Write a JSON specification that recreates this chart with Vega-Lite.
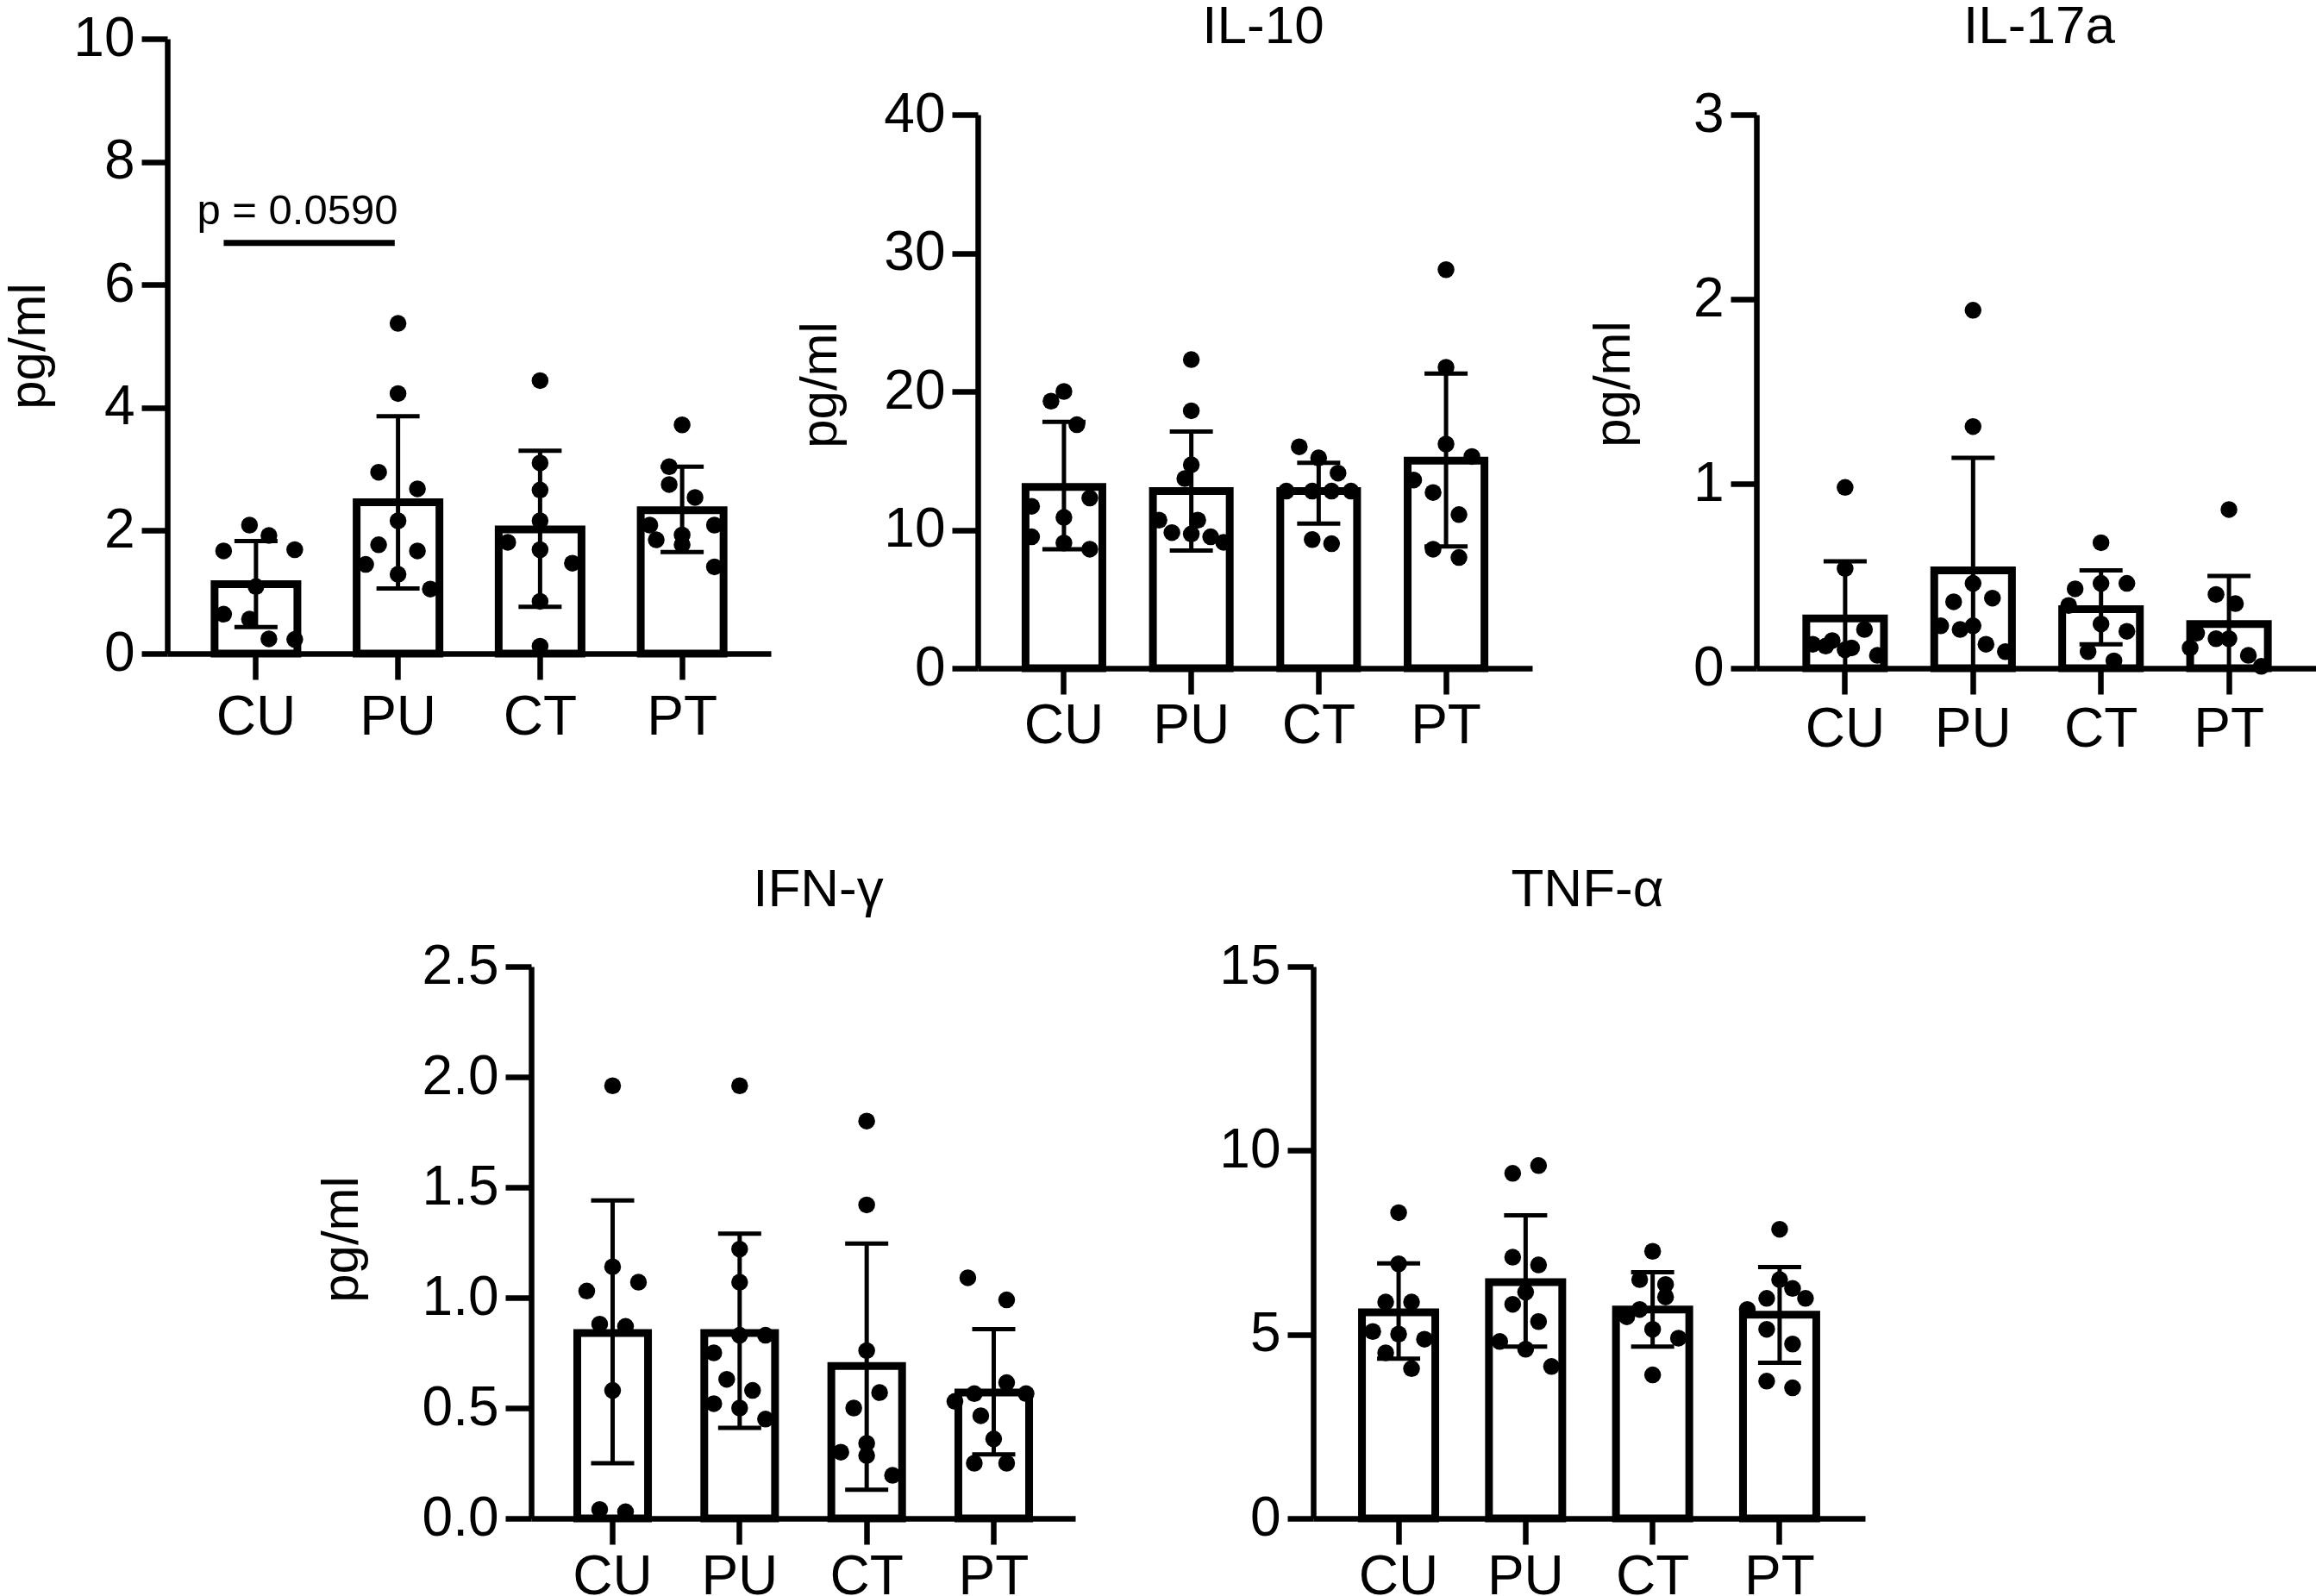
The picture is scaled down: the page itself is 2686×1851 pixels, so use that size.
{
  "$schema": "https://vega.github.io/schema/vega-lite/v6.json",
  "background": "white",
  "padding": {"left": 3, "top": 0, "right": 0, "bottom": 0},
  "config": {
    "font": "Liberation Sans",
    "view": {"stroke": null},
    "axis": {"domainColor": "black", "domainWidth": 6.5, "tickColor": "black", "tickWidth": 6.5, "tickSize": 30, "labelFont": "Liberation Sans", "labelFontSize": 64, "labelColor": "black", "titleFont": "Liberation Sans", "titleFontSize": 60, "titleFontWeight": "normal", "titleColor": "black", "grid": false, "labelPadding": 8, "labelOverlap": false},
    "axisX": {"labelAngle": 0},
    "axisY": {"titleBaseline": "bottom", "titleAlign": "center", "titleAngle": -90},
    "title": {"font": "Liberation Sans", "fontSize": 62, "fontWeight": "normal", "color": "black"}
  },
  "datasets": {
    "sum": [
      {"p": "P1", "g": "CU", "mean": 1.13, "lo": 0.43, "hi": 1.83},
      {"p": "P1", "g": "PU", "mean": 2.46, "lo": 1.06, "hi": 3.86},
      {"p": "P1", "g": "CT", "mean": 2.02, "lo": 0.76, "hi": 3.30},
      {"p": "P1", "g": "PT", "mean": 2.33, "lo": 1.65, "hi": 3.04},
      {"p": "IL10", "g": "CU", "mean": 13.1, "lo": 8.6, "hi": 17.8},
      {"p": "IL10", "g": "PU", "mean": 12.8, "lo": 8.5, "hi": 17.1},
      {"p": "IL10", "g": "CT", "mean": 12.8, "lo": 10.45, "hi": 14.85},
      {"p": "IL10", "g": "PT", "mean": 15.0, "lo": 8.8, "hi": 21.3},
      {"p": "IL17", "g": "CU", "mean": 0.27, "lo": 0, "hi": 0.58},
      {"p": "IL17", "g": "PU", "mean": 0.53, "lo": 0, "hi": 1.14},
      {"p": "IL17", "g": "CT", "mean": 0.32, "lo": 0.13, "hi": 0.53},
      {"p": "IL17", "g": "PT", "mean": 0.24, "lo": 0, "hi": 0.50},
      {"p": "IFN", "g": "CU", "mean": 0.84, "lo": 0.25, "hi": 1.44},
      {"p": "IFN", "g": "PU", "mean": 0.84, "lo": 0.41, "hi": 1.29},
      {"p": "IFN", "g": "CT", "mean": 0.69, "lo": 0.13, "hi": 1.245},
      {"p": "IFN", "g": "PT", "mean": 0.57, "lo": 0.29, "hi": 0.857},
      {"p": "TNF", "g": "CU", "mean": 5.6, "lo": 4.34, "hi": 6.93},
      {"p": "TNF", "g": "PU", "mean": 6.42, "lo": 4.67, "hi": 8.24},
      {"p": "TNF", "g": "CT", "mean": 5.68, "lo": 4.67, "hi": 6.69},
      {"p": "TNF", "g": "PT", "mean": 5.54, "lo": 4.23, "hi": 6.83}
    ],
    "pv": [
      {"g1": "CU", "g2": "PU", "y": 6.68, "ty": 6.99, "label": "p = 0.0590"}
    ],
    "pts": [
      {"p": "P1", "g": "CU", "v": 2.09, "s": -0.5}, {"p": "P1", "g": "CU", "v": 1.92, "s": 1}, {"p": "P1", "g": "CU", "v": 1.67, "s": -2.5}, {"p": "P1", "g": "CU", "v": 1.69, "s": 3}, {"p": "P1", "g": "CU", "v": 1.09, "s": 0}, {"p": "P1", "g": "CU", "v": 0.64, "s": -2.5}, {"p": "P1", "g": "CU", "v": 0.56, "s": -0.5}, {"p": "P1", "g": "CU", "v": 0.24, "s": 1}, {"p": "P1", "g": "CU", "v": 0.23, "s": 3},
      {"p": "P1", "g": "PU", "v": 5.37, "s": 0}, {"p": "P1", "g": "PU", "v": 4.23, "s": 0}, {"p": "P1", "g": "PU", "v": 2.95, "s": -1.5}, {"p": "P1", "g": "PU", "v": 2.68, "s": 1.5}, {"p": "P1", "g": "PU", "v": 2.16, "s": 0}, {"p": "P1", "g": "PU", "v": 1.77, "s": -1.5}, {"p": "P1", "g": "PU", "v": 1.67, "s": 1.5}, {"p": "P1", "g": "PU", "v": 1.45, "s": -2.5}, {"p": "P1", "g": "PU", "v": 1.29, "s": 0}, {"p": "P1", "g": "PU", "v": 1.05, "s": 2.5},
      {"p": "P1", "g": "CT", "v": 4.44, "s": 0}, {"p": "P1", "g": "CT", "v": 3.10, "s": 0}, {"p": "P1", "g": "CT", "v": 2.66, "s": 0}, {"p": "P1", "g": "CT", "v": 2.16, "s": 0}, {"p": "P1", "g": "CT", "v": 1.81, "s": -2.5}, {"p": "P1", "g": "CT", "v": 1.69, "s": 0}, {"p": "P1", "g": "CT", "v": 1.47, "s": 2.5}, {"p": "P1", "g": "CT", "v": 0.85, "s": 0}, {"p": "P1", "g": "CT", "v": 0.12, "s": 0},
      {"p": "P1", "g": "PT", "v": 3.72, "s": 0}, {"p": "P1", "g": "PT", "v": 3.04, "s": -1}, {"p": "P1", "g": "PT", "v": 2.75, "s": -1}, {"p": "P1", "g": "PT", "v": 2.54, "s": 1}, {"p": "P1", "g": "PT", "v": 2.09, "s": -2.5}, {"p": "P1", "g": "PT", "v": 2.09, "s": 2.5}, {"p": "P1", "g": "PT", "v": 1.93, "s": 0}, {"p": "P1", "g": "PT", "v": 1.85, "s": -2}, {"p": "P1", "g": "PT", "v": 1.77, "s": 0}, {"p": "P1", "g": "PT", "v": 1.41, "s": 2.5},
      {"p": "IL10", "g": "CU", "v": 19.3, "s": -1}, {"p": "IL10", "g": "CU", "v": 20.0, "s": 0}, {"p": "IL10", "g": "CU", "v": 17.6, "s": 1}, {"p": "IL10", "g": "CU", "v": 11.7, "s": -2.5}, {"p": "IL10", "g": "CU", "v": 12.3, "s": 2}, {"p": "IL10", "g": "CU", "v": 10.9, "s": 0}, {"p": "IL10", "g": "CU", "v": 9.5, "s": -2.5}, {"p": "IL10", "g": "CU", "v": 9.05, "s": 0}, {"p": "IL10", "g": "CU", "v": 8.6, "s": 2},
      {"p": "IL10", "g": "PU", "v": 22.3, "s": 0}, {"p": "IL10", "g": "PU", "v": 18.6, "s": 0}, {"p": "IL10", "g": "PU", "v": 14.7, "s": 0}, {"p": "IL10", "g": "PU", "v": 13.7, "s": -0.5}, {"p": "IL10", "g": "PU", "v": 10.7, "s": -2.5}, {"p": "IL10", "g": "PU", "v": 10.7, "s": 0.5}, {"p": "IL10", "g": "PU", "v": 9.8, "s": -1.5}, {"p": "IL10", "g": "PU", "v": 9.7, "s": 0}, {"p": "IL10", "g": "PU", "v": 9.5, "s": 1.5}, {"p": "IL10", "g": "PU", "v": 9.1, "s": 2.5},
      {"p": "IL10", "g": "CT", "v": 16.0, "s": -1.5}, {"p": "IL10", "g": "CT", "v": 15.2, "s": 0}, {"p": "IL10", "g": "CT", "v": 14.1, "s": 1.5}, {"p": "IL10", "g": "CT", "v": 12.8, "s": -2.5}, {"p": "IL10", "g": "CT", "v": 12.8, "s": -0.5}, {"p": "IL10", "g": "CT", "v": 12.8, "s": 1}, {"p": "IL10", "g": "CT", "v": 12.8, "s": 2.5}, {"p": "IL10", "g": "CT", "v": 9.3, "s": -0.5}, {"p": "IL10", "g": "CT", "v": 9.0, "s": 1},
      {"p": "IL10", "g": "PT", "v": 28.8, "s": 0}, {"p": "IL10", "g": "PT", "v": 21.75, "s": 0}, {"p": "IL10", "g": "PT", "v": 16.2, "s": 0}, {"p": "IL10", "g": "PT", "v": 15.3, "s": 2}, {"p": "IL10", "g": "PT", "v": 13.6, "s": -2.5}, {"p": "IL10", "g": "PT", "v": 12.7, "s": -1}, {"p": "IL10", "g": "PT", "v": 11.1, "s": 1}, {"p": "IL10", "g": "PT", "v": 8.6, "s": -1}, {"p": "IL10", "g": "PT", "v": 8.0, "s": 1},
      {"p": "IL17", "g": "CU", "v": 0.98, "s": 0}, {"p": "IL17", "g": "CU", "v": 0.54, "s": 0}, {"p": "IL17", "g": "CU", "v": 0.21, "s": 1.5}, {"p": "IL17", "g": "CU", "v": 0.15, "s": -1}, {"p": "IL17", "g": "CU", "v": 0.13, "s": -2.5}, {"p": "IL17", "g": "CU", "v": 0.12, "s": -1.5}, {"p": "IL17", "g": "CU", "v": 0.11, "s": 0.5}, {"p": "IL17", "g": "CU", "v": 0.10, "s": 0}, {"p": "IL17", "g": "CU", "v": 0.07, "s": 2.5},
      {"p": "IL17", "g": "PU", "v": 1.94, "s": 0}, {"p": "IL17", "g": "PU", "v": 1.31, "s": 0}, {"p": "IL17", "g": "PU", "v": 0.46, "s": 0}, {"p": "IL17", "g": "PU", "v": 0.36, "s": -1.5}, {"p": "IL17", "g": "PU", "v": 0.38, "s": 1.5}, {"p": "IL17", "g": "PU", "v": 0.23, "s": -2.5}, {"p": "IL17", "g": "PU", "v": 0.21, "s": -1}, {"p": "IL17", "g": "PU", "v": 0.23, "s": 0}, {"p": "IL17", "g": "PU", "v": 0.13, "s": 1}, {"p": "IL17", "g": "PU", "v": 0.09, "s": 2.5},
      {"p": "IL17", "g": "CT", "v": 0.68, "s": 0}, {"p": "IL17", "g": "CT", "v": 0.43, "s": -2}, {"p": "IL17", "g": "CT", "v": 0.46, "s": 0}, {"p": "IL17", "g": "CT", "v": 0.46, "s": 2}, {"p": "IL17", "g": "CT", "v": 0.34, "s": -2.5}, {"p": "IL17", "g": "CT", "v": 0.24, "s": 0}, {"p": "IL17", "g": "CT", "v": 0.20, "s": 2}, {"p": "IL17", "g": "CT", "v": 0.09, "s": -1}, {"p": "IL17", "g": "CT", "v": 0.04, "s": 1},
      {"p": "IL17", "g": "PT", "v": 0.86, "s": 0}, {"p": "IL17", "g": "PT", "v": 0.40, "s": -1}, {"p": "IL17", "g": "PT", "v": 0.35, "s": 0.5}, {"p": "IL17", "g": "PT", "v": 0.19, "s": -2.5}, {"p": "IL17", "g": "PT", "v": 0.16, "s": -1}, {"p": "IL17", "g": "PT", "v": 0.16, "s": 0}, {"p": "IL17", "g": "PT", "v": 0.11, "s": -3}, {"p": "IL17", "g": "PT", "v": 0.07, "s": 1.5}, {"p": "IL17", "g": "PT", "v": 0.01, "s": 2.5},
      {"p": "IFN", "g": "CU", "v": 1.96, "s": 0}, {"p": "IFN", "g": "CU", "v": 1.14, "s": 0}, {"p": "IFN", "g": "CU", "v": 1.07, "s": 2}, {"p": "IFN", "g": "CU", "v": 1.03, "s": -2}, {"p": "IFN", "g": "CU", "v": 0.88, "s": -1}, {"p": "IFN", "g": "CU", "v": 0.87, "s": 1}, {"p": "IFN", "g": "CU", "v": 0.58, "s": 0}, {"p": "IFN", "g": "CU", "v": 0.04, "s": -1}, {"p": "IFN", "g": "CU", "v": 0.03, "s": 1},
      {"p": "IFN", "g": "PU", "v": 1.96, "s": 0}, {"p": "IFN", "g": "PU", "v": 1.22, "s": 0}, {"p": "IFN", "g": "PU", "v": 1.07, "s": 0}, {"p": "IFN", "g": "PU", "v": 0.83, "s": 0}, {"p": "IFN", "g": "PU", "v": 0.83, "s": 2}, {"p": "IFN", "g": "PU", "v": 0.75, "s": -2}, {"p": "IFN", "g": "PU", "v": 0.63, "s": -1}, {"p": "IFN", "g": "PU", "v": 0.58, "s": 1}, {"p": "IFN", "g": "PU", "v": 0.52, "s": -2}, {"p": "IFN", "g": "PU", "v": 0.50, "s": 0}, {"p": "IFN", "g": "PU", "v": 0.45, "s": 2},
      {"p": "IFN", "g": "CT", "v": 1.80, "s": 0}, {"p": "IFN", "g": "CT", "v": 1.42, "s": 0}, {"p": "IFN", "g": "CT", "v": 0.76, "s": 0}, {"p": "IFN", "g": "CT", "v": 0.57, "s": 1}, {"p": "IFN", "g": "CT", "v": 0.50, "s": -1}, {"p": "IFN", "g": "CT", "v": 0.30, "s": -2}, {"p": "IFN", "g": "CT", "v": 0.34, "s": 0}, {"p": "IFN", "g": "CT", "v": 0.285, "s": 0}, {"p": "IFN", "g": "CT", "v": 0.195, "s": 2},
      {"p": "IFN", "g": "PT", "v": 1.09, "s": -2}, {"p": "IFN", "g": "PT", "v": 0.99, "s": 1}, {"p": "IFN", "g": "PT", "v": 0.615, "s": 1}, {"p": "IFN", "g": "PT", "v": 0.565, "s": -1.5}, {"p": "IFN", "g": "PT", "v": 0.565, "s": 2.5}, {"p": "IFN", "g": "PT", "v": 0.53, "s": -3}, {"p": "IFN", "g": "PT", "v": 0.465, "s": -1}, {"p": "IFN", "g": "PT", "v": 0.36, "s": 0}, {"p": "IFN", "g": "PT", "v": 0.25, "s": -1.5}, {"p": "IFN", "g": "PT", "v": 0.25, "s": 1},
      {"p": "TNF", "g": "CU", "v": 8.31, "s": 0}, {"p": "TNF", "g": "CU", "v": 6.92, "s": 0}, {"p": "TNF", "g": "CU", "v": 5.88, "s": -1}, {"p": "TNF", "g": "CU", "v": 5.88, "s": 1}, {"p": "TNF", "g": "CU", "v": 5.08, "s": -2}, {"p": "TNF", "g": "CU", "v": 5.01, "s": 0}, {"p": "TNF", "g": "CU", "v": 4.87, "s": 2}, {"p": "TNF", "g": "CU", "v": 4.5, "s": -1}, {"p": "TNF", "g": "CU", "v": 4.07, "s": 1},
      {"p": "TNF", "g": "PU", "v": 9.59, "s": 1}, {"p": "TNF", "g": "PU", "v": 9.38, "s": -1}, {"p": "TNF", "g": "PU", "v": 7.10, "s": -1}, {"p": "TNF", "g": "PU", "v": 6.89, "s": 1}, {"p": "TNF", "g": "PU", "v": 6.15, "s": 0}, {"p": "TNF", "g": "PU", "v": 5.82, "s": -1}, {"p": "TNF", "g": "PU", "v": 5.35, "s": 1}, {"p": "TNF", "g": "PU", "v": 4.81, "s": -2}, {"p": "TNF", "g": "PU", "v": 4.60, "s": 0}, {"p": "TNF", "g": "PU", "v": 4.13, "s": 2},
      {"p": "TNF", "g": "CT", "v": 7.26, "s": 0}, {"p": "TNF", "g": "CT", "v": 6.49, "s": -1}, {"p": "TNF", "g": "CT", "v": 6.36, "s": 1}, {"p": "TNF", "g": "CT", "v": 6.02, "s": 1}, {"p": "TNF", "g": "CT", "v": 5.68, "s": -1}, {"p": "TNF", "g": "CT", "v": 5.48, "s": -2}, {"p": "TNF", "g": "CT", "v": 5.14, "s": 0}, {"p": "TNF", "g": "CT", "v": 4.90, "s": 2}, {"p": "TNF", "g": "CT", "v": 3.90, "s": 0},
      {"p": "TNF", "g": "PT", "v": 7.86, "s": 0}, {"p": "TNF", "g": "PT", "v": 6.49, "s": 0}, {"p": "TNF", "g": "PT", "v": 6.25, "s": 1}, {"p": "TNF", "g": "PT", "v": 5.98, "s": 2}, {"p": "TNF", "g": "PT", "v": 5.98, "s": -1}, {"p": "TNF", "g": "PT", "v": 5.68, "s": -2.5}, {"p": "TNF", "g": "PT", "v": 5.14, "s": -1}, {"p": "TNF", "g": "PT", "v": 4.74, "s": 1}, {"p": "TNF", "g": "PT", "v": 3.73, "s": -1}, {"p": "TNF", "g": "PT", "v": 3.55, "s": 1}
    ]
  },
  "columns": 5,
  "align": "none",
  "bounds": "flush",
  "spacing": {"row": 346, "column": 0},
  "concat": [
    {
      "width": 422, "height": 713,
      "resolve": {"scale": {"xOffset": "independent"}},
      "layer": [
        {"data": {"name": "sum"}, "transform": [{"filter": "datum.p === 'P1'"}],
         "mark": {"type": "bar", "fill": "white", "stroke": "black", "strokeWidth": 9},
         "encoding": {
           "x": {"field": "g", "type": "nominal", "scale": {"domain": ["CU", "PU", "CT", "PT"], "range": [0, 700], "paddingInner": 0.417, "paddingOuter": 0.333}, "axis": {"title": null, "labelPadding": 12}},
           "y": {"field": "mean", "type": "quantitative", "title": "pg/ml", "scale": {"domain": [0, 10], "nice": false}, "axis": {"values": [0, 2, 4, 6, 8, 10], "format": "d", "titleX": -130, "titleY": 356}}}},
        {"data": {"name": "sum"}, "transform": [{"filter": "datum.p === 'P1'"}],
         "mark": {"type": "rule", "strokeWidth": 5, "color": "black"},
         "encoding": {"x": {"field": "g", "type": "nominal"}, "y": {"field": "lo", "type": "quantitative", "title": "pg/ml"}, "y2": {"field": "hi"}}},
        {"data": {"name": "sum"}, "transform": [{"filter": "datum.p === 'P1'"}],
         "mark": {"type": "tick", "size": 50, "thickness": 5, "color": "black", "opacity": 1},
         "encoding": {"x": {"field": "g", "type": "nominal"}, "y": {"field": "hi", "type": "quantitative", "title": "pg/ml"}}},
        {"data": {"name": "sum"}, "transform": [{"filter": "datum.p === 'P1'"}],
         "mark": {"type": "tick", "size": 50, "thickness": 5, "color": "black", "opacity": 1},
         "encoding": {"x": {"field": "g", "type": "nominal"}, "y": {"field": "lo", "type": "quantitative", "title": "pg/ml"}}},
        {"data": {"name": "pts"}, "transform": [{"filter": "datum.p === 'P1'"}],
         "mark": {"type": "circle", "size": 380, "color": "black", "opacity": 1},
         "encoding": {"x": {"field": "g", "type": "nominal"}, "xOffset": {"field": "s", "type": "quantitative", "scale": {"domain": [-3, 3], "range": [3, 93]}}, "y": {"field": "v", "type": "quantitative", "title": "pg/ml"}}},
        {"data": {"name": "pv"},
         "mark": {"type": "rule", "strokeWidth": 7, "color": "black"},
         "encoding": {"x": {"field": "g1", "type": "nominal", "bandPosition": 0.11}, "x2": {"field": "g2", "bandPosition": 0.46}, "y": {"field": "y", "type": "quantitative", "title": "pg/ml"}}},
        {"data": {"name": "pv"},
         "mark": {"type": "text", "fontSize": 49, "baseline": "alphabetic", "align": "center", "color": "black"},
         "encoding": {"x": {"field": "g1", "type": "nominal", "bandPosition": 1}, "y": {"field": "ty", "type": "quantitative", "title": "pg/ml"}, "text": {"field": "label"}}}
      ]
    },
    {"width": 518, "height": 1, "data": {"values": [{}]}, "mark": {"type": "point", "opacity": 0}, "encoding": {}},
    {
      "width": 389, "height": 730,
      "title": {"text": "IL-10", "anchor": "start", "align": "center", "dx": 331, "frame": "group", "baseline": "alphabetic", "offset": -67},
      "resolve": {"scale": {"xOffset": "independent"}},
      "layer": [
        {"data": {"name": "sum"}, "transform": [{"filter": "datum.p === 'IL10'"}],
         "mark": {"type": "bar", "fill": "white", "stroke": "black", "strokeWidth": 9},
         "encoding": {
           "x": {"field": "g", "type": "nominal", "scale": {"domain": ["CU", "PU", "CT", "PT"], "range": [0, 643], "paddingInner": 0.397, "paddingOuter": 0.375}, "axis": {"title": null, "labelPadding": 5}},
           "y": {"field": "mean", "type": "quantitative", "title": "pg/ml", "scale": {"domain": [0, 40], "nice": false, "range": [730, 88]}, "axis": {"values": [0, 10, 20, 30, 40], "format": "d", "titleX": -152, "titleY": 401}}}},
        {"data": {"name": "sum"}, "transform": [{"filter": "datum.p === 'IL10'"}],
         "mark": {"type": "rule", "strokeWidth": 5, "color": "black"},
         "encoding": {"x": {"field": "g", "type": "nominal"}, "y": {"field": "lo", "type": "quantitative", "title": "pg/ml"}, "y2": {"field": "hi"}}},
        {"data": {"name": "sum"}, "transform": [{"filter": "datum.p === 'IL10'"}],
         "mark": {"type": "tick", "size": 50, "thickness": 5, "color": "black", "opacity": 1},
         "encoding": {"x": {"field": "g", "type": "nominal"}, "y": {"field": "hi", "type": "quantitative", "title": "pg/ml"}}},
        {"data": {"name": "sum"}, "transform": [{"filter": "datum.p === 'IL10'"}],
         "mark": {"type": "tick", "size": 50, "thickness": 5, "color": "black", "opacity": 1},
         "encoding": {"x": {"field": "g", "type": "nominal"}, "y": {"field": "lo", "type": "quantitative", "title": "pg/ml"}}},
        {"data": {"name": "pts"}, "transform": [{"filter": "datum.p === 'IL10'"}],
         "mark": {"type": "circle", "size": 380, "color": "black", "opacity": 1},
         "encoding": {"x": {"field": "g", "type": "nominal"}, "xOffset": {"field": "s", "type": "quantitative", "scale": {"domain": [-3, 3], "range": [-0.5, 89.5]}}, "y": {"field": "v", "type": "quantitative", "title": "pg/ml"}}}
      ]
    },
    {"width": 514, "height": 1, "data": {"values": [{}]}, "mark": {"type": "point", "opacity": 0}, "encoding": {}},
    {
      "width": 651, "height": 730,
      "title": {"text": "IL-17a", "anchor": "start", "align": "center", "dx": 328, "frame": "group", "baseline": "alphabetic", "offset": -67},
      "resolve": {"scale": {"xOffset": "independent"}},
      "layer": [
        {"data": {"name": "sum"}, "transform": [{"filter": "datum.p === 'IL17'"}],
         "mark": {"type": "bar", "fill": "white", "stroke": "black", "strokeWidth": 9},
         "encoding": {
           "x": {"field": "g", "type": "nominal", "scale": {"domain": ["CU", "PU", "CT", "PT"], "range": [0, 651], "paddingInner": 0.393, "paddingOuter": 0.39}, "axis": {"title": null, "labelPadding": 9}},
           "y": {"field": "mean", "type": "quantitative", "title": "pg/ml", "scale": {"domain": [0, 3], "nice": false, "range": [730, 88]}, "axis": {"values": [0, 1, 2, 3], "format": "d", "titleX": -135, "titleY": 400}}}},
        {"data": {"name": "sum"}, "transform": [{"filter": "datum.p === 'IL17'"}],
         "mark": {"type": "rule", "strokeWidth": 5, "color": "black"},
         "encoding": {"x": {"field": "g", "type": "nominal"}, "y": {"field": "lo", "type": "quantitative", "title": "pg/ml"}, "y2": {"field": "hi"}}},
        {"data": {"name": "sum"}, "transform": [{"filter": "datum.p === 'IL17'"}],
         "mark": {"type": "tick", "size": 50, "thickness": 5, "color": "black", "opacity": 1},
         "encoding": {"x": {"field": "g", "type": "nominal"}, "y": {"field": "hi", "type": "quantitative", "title": "pg/ml"}}},
        {"data": {"name": "sum"}, "transform": [{"filter": "datum.p === 'IL17'"}],
         "mark": {"type": "tick", "size": 50, "thickness": 5, "color": "black", "opacity": 1},
         "encoding": {"x": {"field": "g", "type": "nominal"}, "y": {"field": "lo", "type": "quantitative", "title": "pg/ml"}}},
        {"data": {"name": "pts"}, "transform": [{"filter": "datum.p === 'IL17'"}],
         "mark": {"type": "circle", "size": 380, "color": "black", "opacity": 1},
         "encoding": {"x": {"field": "g", "type": "nominal"}, "xOffset": {"field": "s", "type": "quantitative", "scale": {"domain": [-3, 3], "range": [0, 90]}}, "y": {"field": "v", "type": "quantitative", "title": "pg/ml"}}}
      ]
    },
    {"width": 422, "height": 1, "data": {"values": [{}]}, "mark": {"type": "point", "opacity": 0}, "encoding": {}},
    {
      "width": 518, "height": 640,
      "title": {"text": "IFN-γ", "anchor": "start", "align": "center", "dx": 333, "frame": "group", "baseline": "alphabetic", "offset": -24},
      "resolve": {"scale": {"xOffset": "independent"}},
      "layer": [
        {"data": {"name": "sum"}, "transform": [{"filter": "datum.p === 'IFN'"}],
         "mark": {"type": "bar", "fill": "white", "stroke": "black", "strokeWidth": 9},
         "encoding": {
           "x": {"field": "g", "type": "nominal", "scale": {"domain": ["CU", "PU", "CT", "PT"], "range": [0, 631], "paddingInner": 0.443, "paddingOuter": 0.363}, "axis": {"title": null, "labelPadding": 6}},
           "y": {"field": "mean", "type": "quantitative", "title": "pg/ml", "scale": {"domain": [0, 2.5], "nice": false}, "axis": {"values": [0, 0.5, 1, 1.5, 2, 2.5], "format": ".1f", "titleX": -189, "titleY": 316}}}},
        {"data": {"name": "sum"}, "transform": [{"filter": "datum.p === 'IFN'"}],
         "mark": {"type": "rule", "strokeWidth": 5, "color": "black"},
         "encoding": {"x": {"field": "g", "type": "nominal"}, "y": {"field": "lo", "type": "quantitative", "title": "pg/ml"}, "y2": {"field": "hi"}}},
        {"data": {"name": "sum"}, "transform": [{"filter": "datum.p === 'IFN'"}],
         "mark": {"type": "tick", "size": 50, "thickness": 5, "color": "black", "opacity": 1},
         "encoding": {"x": {"field": "g", "type": "nominal"}, "y": {"field": "hi", "type": "quantitative", "title": "pg/ml"}}},
        {"data": {"name": "sum"}, "transform": [{"filter": "datum.p === 'IFN'"}],
         "mark": {"type": "tick", "size": 50, "thickness": 5, "color": "black", "opacity": 1},
         "encoding": {"x": {"field": "g", "type": "nominal"}, "y": {"field": "lo", "type": "quantitative", "title": "pg/ml"}}},
        {"data": {"name": "pts"}, "transform": [{"filter": "datum.p === 'IFN'"}],
         "mark": {"type": "circle", "size": 380, "color": "black", "opacity": 1},
         "encoding": {"x": {"field": "g", "type": "nominal"}, "xOffset": {"field": "s", "type": "quantitative", "scale": {"domain": [-3, 3], "range": [-4, 86]}}, "y": {"field": "v", "type": "quantitative", "title": "pg/ml"}}}
      ]
    },
    {"width": 389, "height": 1, "data": {"values": [{}]}, "mark": {"type": "point", "opacity": 0}, "encoding": {}},
    {
      "width": 514, "height": 640,
      "title": {"text": "TNF-α", "anchor": "start", "align": "center", "dx": 318, "frame": "group", "baseline": "alphabetic", "offset": -24},
      "resolve": {"scale": {"xOffset": "independent"}},
      "layer": [
        {"data": {"name": "sum"}, "transform": [{"filter": "datum.p === 'TNF'"}],
         "mark": {"type": "bar", "fill": "white", "stroke": "black", "strokeWidth": 9},
         "encoding": {
           "x": {"field": "g", "type": "nominal", "scale": {"domain": ["CU", "PU", "CT", "PT"], "range": [0, 640], "paddingInner": 0.423, "paddingOuter": 0.384}, "axis": {"title": null, "labelPadding": 6}},
           "y": {"field": "mean", "type": "quantitative", "title": null, "scale": {"domain": [0, 15], "nice": false}, "axis": {"values": [0, 5, 10, 15], "format": "d"}}}},
        {"data": {"name": "sum"}, "transform": [{"filter": "datum.p === 'TNF'"}],
         "mark": {"type": "rule", "strokeWidth": 5, "color": "black"},
         "encoding": {"x": {"field": "g", "type": "nominal"}, "y": {"field": "lo", "type": "quantitative", "title": null}, "y2": {"field": "hi"}}},
        {"data": {"name": "sum"}, "transform": [{"filter": "datum.p === 'TNF'"}],
         "mark": {"type": "tick", "size": 50, "thickness": 5, "color": "black", "opacity": 1},
         "encoding": {"x": {"field": "g", "type": "nominal"}, "y": {"field": "hi", "type": "quantitative", "title": null}}},
        {"data": {"name": "sum"}, "transform": [{"filter": "datum.p === 'TNF'"}],
         "mark": {"type": "tick", "size": 50, "thickness": 5, "color": "black", "opacity": 1},
         "encoding": {"x": {"field": "g", "type": "nominal"}, "y": {"field": "lo", "type": "quantitative", "title": null}}},
        {"data": {"name": "pts"}, "transform": [{"filter": "datum.p === 'TNF'"}],
         "mark": {"type": "circle", "size": 380, "color": "black", "opacity": 1},
         "encoding": {"x": {"field": "g", "type": "nominal"}, "xOffset": {"field": "s", "type": "quantitative", "scale": {"domain": [-3, 3], "range": [-2.5, 87.5]}}, "y": {"field": "v", "type": "quantitative", "title": null}}}
      ]
    }
  ]
}
